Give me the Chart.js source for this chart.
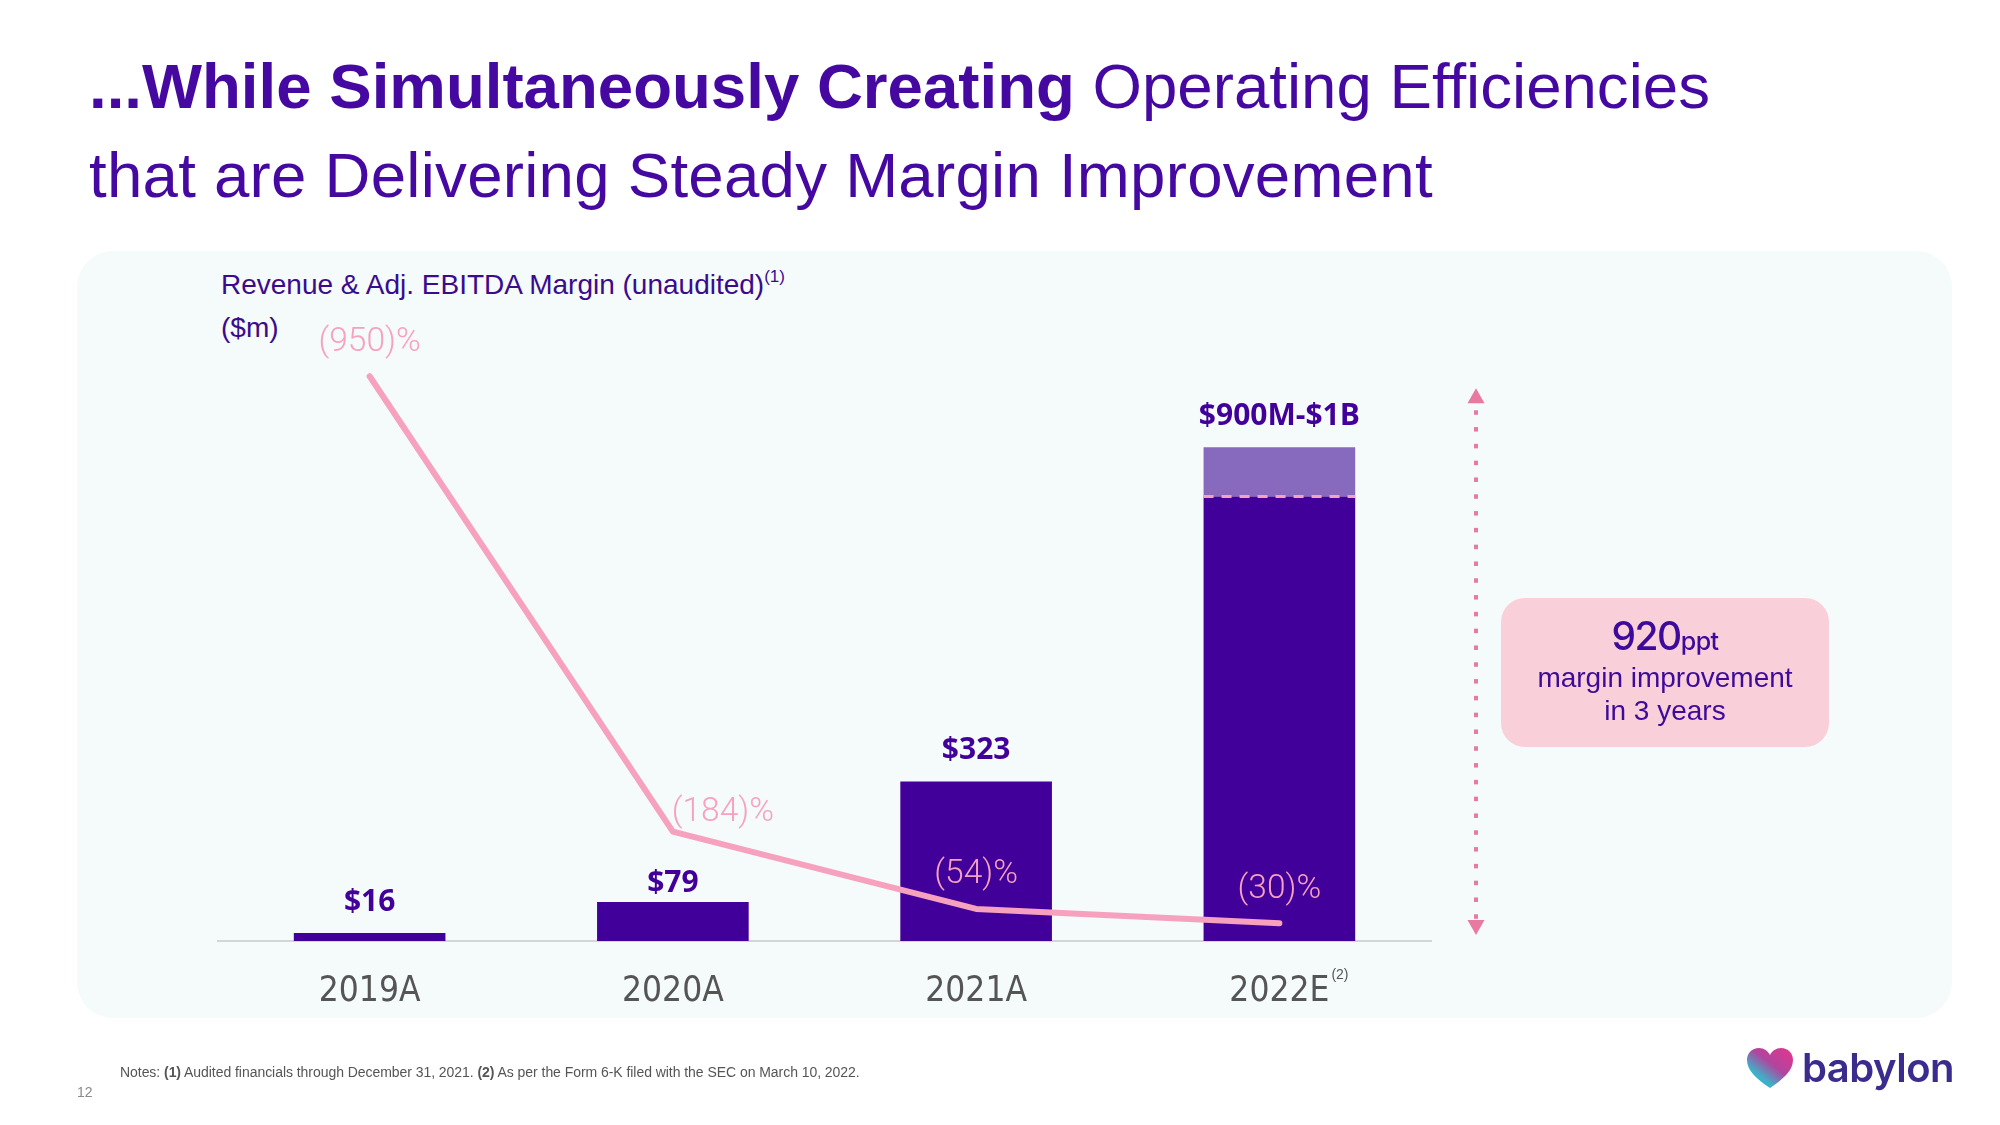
<!DOCTYPE html>
<html lang="en">
<head>
<meta charset="UTF-8">
<title>Revenue &amp; Adj. EBITDA Margin</title>
<script src="https://cdn.jsdelivr.net/npm/chart.js@4.4.0/dist/chart.umd.min.js"></script>
<style>
  body { margin: 0; background: #fff; font-family: "Liberation Sans", Arial, sans-serif; }
  #page { position: relative; width: 2000px; height: 1125px; overflow: hidden; background: #fff; }
  .title { position: absolute; left: 89px; top: 41px; font-size: 63.6px; line-height: 89px; color: #4509A2; white-space: nowrap; }
  .title b { font-weight: 700; }
  .title .l2 { letter-spacing: 0.25px; }
  .panel { position: absolute; left: 77px; top: 251px; width: 1875px; height: 767px; background: #F5FAFA; border-radius: 36px; }
  #chart { position: absolute; left: 0; top: 0; }
  .sub { position: absolute; left: 221px; font-size: 28px; line-height: 34px; color: #3B0B8E; white-space: nowrap; }
  .sub sup { font-size: 17px; vertical-align: 12px; line-height: 0; }
  .callout { position: absolute; left: 1501px; top: 598px; width: 328px; height: 149px; background: #F9D0D9; border-radius: 24px; color: #3D0A9A; text-align: center; }
  .callout .big { position: absolute; left: 0; right: 0; top: 16px; font-family: Inter, "Liberation Sans", sans-serif; font-weight: 500; font-size: 39px; letter-spacing: -1.5px; line-height: 44px; }
  .callout .big span { font-size: 25px; letter-spacing: -0.5px; }
  .callout .txt { position: absolute; left: 0; right: 0; top: 63px; font-size: 28px; line-height: 33px; }
  .notes { position: absolute; left: 120px; top: 1064px; font-size: 14px; color: #555; white-space: nowrap; letter-spacing: -0.05px; }
  .pgnum { position: absolute; left: 77px; top: 1084px; font-size: 14px; color: #8a8a8a; }
  .logo { position: absolute; left: 1747px; top: 1046px; display: flex; align-items: center; }
  .logo span { margin-left: 9px; font-family: Inter, sans-serif; font-weight: 600; font-size: 40px; color: #3A2C8E; letter-spacing: -0.5px; line-height: 44px; }
</style>
</head>
<body>
<div id="page">
  <div class="title"><b>...While Simultaneously Creating</b> Operating Efficiencies<br><span class="l2">that are Delivering Steady Margin Improvement</span></div>
  <div class="panel"></div>
  <div class="sub" style="top:268px">Revenue &amp; Adj. EBITDA Margin (unaudited)<sup>(1)</sup></div>
  <div class="sub" style="top:311px">($m)</div>
  <canvas id="chart" width="2000" height="1125"></canvas>
  <div class="callout">
    <div class="big">920<span>ppt</span></div>
    <div class="txt">margin improvement<br>in 3 years</div>
  </div>
  <div class="notes">Notes: <b>(1)</b> Audited financials through December 31, 2021. <b>(2)</b> As per the Form 6-K filed with the SEC on March 10, 2022.</div>
  <div class="pgnum">12</div>
  <div class="logo">
    <svg width="46" height="40" viewBox="0 0 46 40">
      <defs>
        <linearGradient id="hg" x1="1" y1="0" x2="0.1" y2="1">
          <stop offset="0" stop-color="#E8348A"/>
          <stop offset="0.45" stop-color="#B0459F"/>
          <stop offset="0.75" stop-color="#3FB0C8"/>
          <stop offset="1" stop-color="#1DB9DC"/>
        </linearGradient>
      </defs>
      <path d="M23 40 C10 31 0 23 0 12 C0 5 5 0 12 0 C17 0 21 3 23 7 C25 3 29 0 34 0 C41 0 46 5 46 12 C46 23 36 31 23 40 Z" fill="url(#hg)"/>
    </svg>
    <span>babylon</span>
  </div>
</div>

<script>
  // values
  const years = ['2019A', '2020A', '2021A', '2022E'];
  const revenue = [16, 79, 323, 900];
  const revenueUpper = [0, 0, 0, 100];
  const revenueLabels = ['$16', '$79', '$323', '$900M-$1B'];
  const marginPct = [-950, -184, -54, -30];
  const marginLabels = ['(950)%', '(184)%', '(54)%', '(30)%'];

  const PURPLE = '#42009B';
  const PINK = '#F6A1BE';
  const TICK_FONT = '35px "Liberation Sans Narrow", "DejaVu Sans Condensed", sans-serif';

  const labelsPlugin = {
    id: 'labels',
    afterDatasetsDraw(chart) {
      const ctx = chart.ctx;
      const yS = chart.scales.y;
      const bars = chart.getDatasetMeta(0).data;

      // dashed line where the 2022E range starts
      const b3 = bars[3];
      ctx.save();
      ctx.strokeStyle = PINK;
      ctx.lineWidth = 3;
      ctx.setLineDash([10, 8]);
      ctx.beginPath();
      ctx.moveTo(b3.x - b3.width / 2, b3.y);
      ctx.lineTo(b3.x + b3.width / 2, b3.y);
      ctx.stroke();
      ctx.restore();

      // revenue labels ($79 sits closer to its bar on the slide)
      ctx.save();
      ctx.fillStyle = PURPLE;
      ctx.font = 'bold 30px "Open Sans", sans-serif';
      ctx.textAlign = 'center';
      ctx.textBaseline = 'alphabetic';
      bars.forEach((b, i) => {
        const top = yS.getPixelForValue(revenue[i] + revenueUpper[i]);
        const gap = i === 1 ? 10 : 22;
        ctx.fillText(revenueLabels[i], b.x, top - gap);
      });
      ctx.restore();

      // margin labels
      const pts = chart.getDatasetMeta(2).data;
      ctx.save();
      ctx.fillStyle = PINK;
      ctx.font = '300 33.5px Roboto, "Liberation Sans", sans-serif';
      ctx.textAlign = 'center';
      ctx.textBaseline = 'middle';
      pts.forEach((p, i) => {
        const dx = i === 1 ? 50 : 0;
        const dy = i === 1 ? -19 : -34;
        ctx.fillText(marginLabels[i], p.x + dx, p.y + dy);
      });
      ctx.restore();
    },
    afterDraw(chart) {
      const ctx = chart.ctx;
      const xS = chart.scales.x;
      const y2 = chart.scales.y2;

      // superscript on 2022E
      ctx.save();
      ctx.font = TICK_FONT;
      const w = ctx.measureText(years[3]).width;
      ctx.font = '14px "Liberation Sans", sans-serif';
      ctx.fillStyle = '#555';
      ctx.textBaseline = 'middle';
      ctx.fillText('(2)', xS.getPixelForTick(3) + w / 2 + 2, 975);
      ctx.restore();

      // dotted double arrow
      const x = chart.chartArea.right + 45;
      const top = y2.getPixelForValue(marginPct[0]) + 12;
      const bottom = y2.getPixelForValue(0) - 6;
      ctx.save();
      ctx.fillStyle = '#E97A9F';
      ctx.beginPath();
      ctx.moveTo(x, top);
      ctx.lineTo(x - 8.5, top + 15);
      ctx.lineTo(x + 8.5, top + 15);
      ctx.closePath();
      ctx.fill();
      ctx.beginPath();
      ctx.moveTo(x, bottom);
      ctx.lineTo(x - 8.5, bottom - 15);
      ctx.lineTo(x + 8.5, bottom - 15);
      ctx.closePath();
      ctx.fill();
      for (let y = top + 22; y < bottom - 18; y += 16.8) {
        ctx.fillRect(x - 2, y, 4, 4.5);
      }
      ctx.restore();
    }
  };

  const ctx = document.getElementById('chart').getContext('2d');
  new Chart(ctx, {
    data: {
      labels: years,
      datasets: [
        { type: 'bar', label: 'Revenue', data: revenue, backgroundColor: PURPLE, yAxisID: 'y', order: 2 },
        { type: 'bar', label: 'Revenue range', data: revenueUpper, backgroundColor: '#876ABD', yAxisID: 'y', order: 2 },
        { type: 'line', label: 'Adj. EBITDA margin', data: marginPct, yAxisID: 'y2', borderColor: PINK,
          borderWidth: 6, pointRadius: 0, tension: 0, borderCapStyle: 'round', borderJoinStyle: 'round', order: 0 }
      ]
    },
    options: {
      responsive: false,
      devicePixelRatio: 1,
      animation: false,
      barPercentage: 0.5,
      categoryPercentage: 1,
      layout: { padding: { left: 218, right: 569, top: 299, bottom: 104 } },
      plugins: { legend: { display: false }, tooltip: { enabled: false } },
      scales: {
        x: {
          stacked: true,
          grid: { display: false },
          border: { color: '#D3D6D9', width: 2 },
          ticks: { color: '#555', padding: 22, font: { family: '"Liberation Sans Narrow", "DejaVu Sans Condensed", sans-serif', size: 35 } },
          afterFit: s => { s.height = 80; }
        },
        y: { stacked: true, display: false, min: 0, max: 1300 },
        y2: { display: false, reverse: true, min: -1080, max: 0 }
      }
    },
    plugins: [labelsPlugin]
  });
</script>
</body>
</html>
